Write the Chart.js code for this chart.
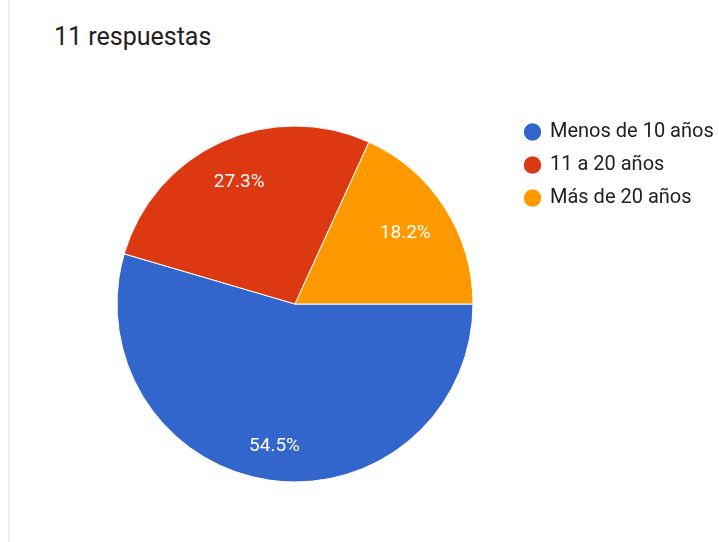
<!DOCTYPE html>
<html>
<head>
<meta charset="utf-8">
<script src="https://cdn.jsdelivr.net/npm/chart.js@4.4.1/dist/chart.umd.min.js"></script>
<style>
    html, body { margin: 0; padding: 0; background: #fff; }
    #wrap { position: relative; width: 719px; height: 542px; overflow: hidden; }
    #edge { position: absolute; left: 8px; top: 0; width: 2px; height: 542px; background: #ececec; }
    #title {
        position: absolute; left: 54px; top: 24px;
        font-family: Roboto, sans-serif; font-size: 25px; line-height: 25px;
        color: #212121;
    }
    #responsesChart { position: absolute; left: 0; top: 0; }
</style>
</head>
<body>
<div id="wrap">
    <div id="edge"></div>
    <div id="title">11 respuestas</div>
    <canvas id="responsesChart" width="719" height="542"></canvas>
</div>
<script>
// Answers per age range
const categories = ['Menos de 10 años', '11 a 20 años', 'Más de 20 años'];
const counts = [6, 3, 2];
const sliceColors = ['#3366cc', '#dc3912', '#ff9900'];

// Percentage text drawn inside each slice
const sliceLabels = {
    id: 'sliceLabels',
    afterDatasetsDraw(chart) {
        const ctx = chart.ctx;
        const meta = chart.getDatasetMeta(0);
        const total = counts.reduce((a, b) => a + b, 0);
        ctx.save();
        ctx.font = '19px Roboto, sans-serif';
        ctx.fillStyle = '#ffffff';
        ctx.textAlign = 'center';
        ctx.textBaseline = 'middle';
        meta.data.forEach((arc, i) => {
            const { x, y, startAngle, endAngle, outerRadius } = arc.getProps(['x', 'y', 'startAngle', 'endAngle', 'outerRadius']);
            const share = counts[i] / total;
            const mid = (startAngle + endAngle) / 2;
            const r = outerRadius * (0.7 + 0.2 * share);
            ctx.fillText((share * 100).toFixed(1) + '%', x + Math.cos(mid) * r, y + Math.sin(mid) * r);
        });
        ctx.restore();
    }
};

new Chart(document.getElementById('responsesChart'), {
    type: 'pie',
    data: {
        labels: categories,
        datasets: [{
            data: counts,
            backgroundColor: sliceColors,
            borderColor: '#ffffff',
            borderWidth: 1,
            radius: 178
        }]
    },
    options: {
        responsive: false,
        animation: false,
        rotation: 90,
        layout: {
            padding: { left: 78, top: 109, right: 0, bottom: 43 }
        },
        plugins: {
            legend: {
                position: 'right',
                align: 'start',
                maxWidth: 207,
                labels: {
                    usePointStyle: true,
                    pointStyle: 'circle',
                    boxWidth: 15,
                    boxHeight: 13,
                    padding: 13,
                    color: '#212121',
                    font: { family: 'Roboto', size: 20 }
                }
            },
            tooltip: { enabled: false }
        }
    },
    plugins: [sliceLabels]
});
</script>
</body>
</html>
